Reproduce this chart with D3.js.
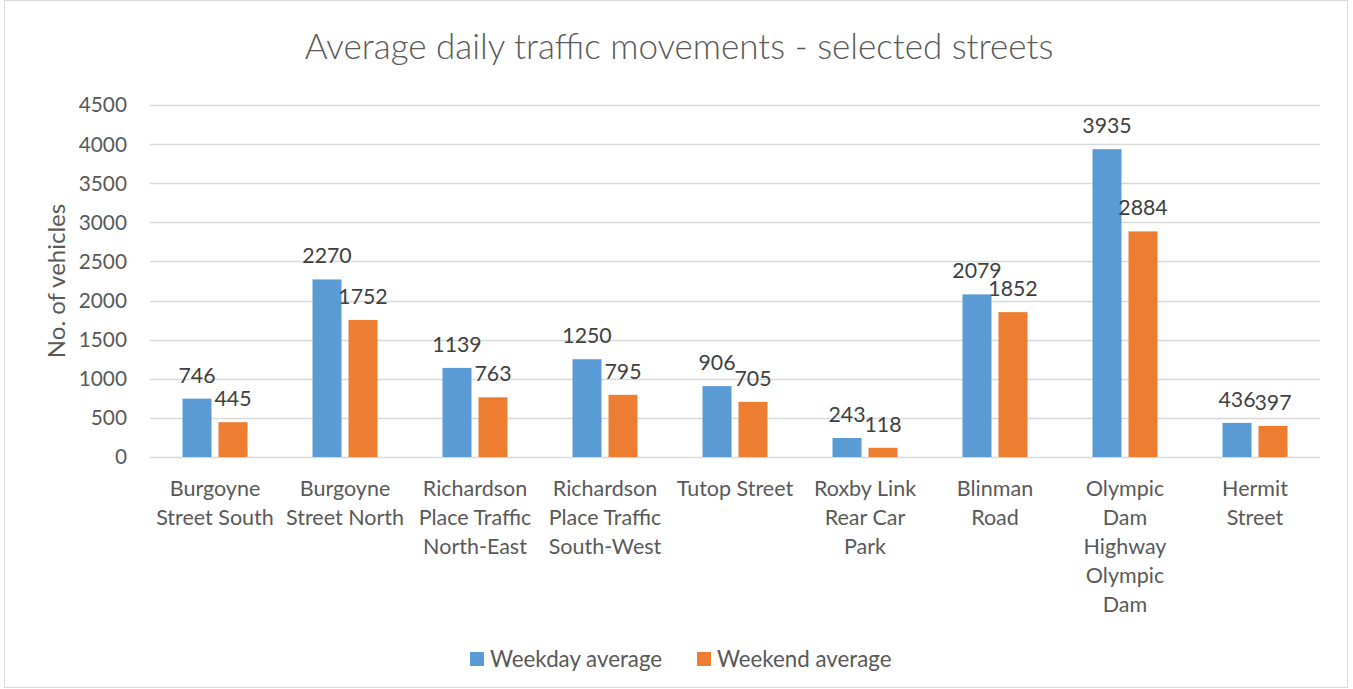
<!DOCTYPE html>
<html lang="en">
<head>
    <meta charset="UTF-8">
    <title>Average daily traffic movements</title>
    <script src="https://cdn.jsdelivr.net/npm/d3@7"></script>
    <style>
        body { margin: 0; background: #fff; }
        text { font-family: Lato, "Open Sans", sans-serif; }
    </style>
</head>
<body>

<script>

    const width = 1353;
    const height = 689;

    const categories = [
        ["Burgoyne", "Street South"],
        ["Burgoyne", "Street North"],
        ["Richardson", "Place Traffic", "North-East"],
        ["Richardson", "Place Traffic", "South-West"],
        ["Tutop Street"],
        ["Roxby Link", "Rear Car", "Park"],
        ["Blinman", "Road"],
        ["Olympic", "Dam", "Highway", "Olympic", "Dam"],
        ["Hermit", "Street"]
    ];
    const weekday = [746, 2270, 1139, 1250, 906, 243, 2079, 3935, 436];
    const weekend = [445, 1752, 763, 795, 705, 118, 1852, 2884, 397];
    const series = ["Weekday average", "Weekend average"];
    const yTicks = [0, 500, 1000, 1500, 2000, 2500, 3000, 3500, 4000, 4500];

    const colors = ["#5B9BD5", "#ED7D31"];
    const values = [weekday, weekend];

    const svg = d3.select("body").append("svg")
        .attr("width", width)
        .attr("height", height);

    // chart frame
    svg.append("rect")
        .attr("x", 4.5).attr("y", 0.5)
        .attr("width", 1343).attr("height", 687)
        .attr("fill", "#fff")
        .attr("stroke", "#d9d9d9");

    const x0 = d3.scaleBand()
        .domain(d3.range(categories.length))
        .range([150, 1320]);

    const x1 = d3.scaleBand()
        .domain(d3.range(series.length))
        .range([0, 65])
        .paddingInner(0.194);

    const y = d3.scaleLinear()
        .domain([0, 4500])
        .range([457, 105]);

    // gridlines + tick labels
    const grid = svg.append("g");
    grid.selectAll("line")
        .data(yTicks)
        .join("line")
        .attr("x1", 150).attr("x2", 1320)
        .attr("y1", d => Math.round(y(d)) + 0.5)
        .attr("y2", d => Math.round(y(d)) + 0.5)
        .attr("stroke", "#d9d9d9")
        .attr("stroke-width", 1.3);

    grid.selectAll("text")
        .data(yTicks)
        .join("text")
        .attr("x", 127)
        .attr("y", d => y(d))
        .attr("dy", "0.36em")
        .attr("text-anchor", "end")
        .attr("font-size", 20.8)
        .attr("fill", "#595959")
        .text(d => d);

    // bars
    const groups = svg.append("g")
        .selectAll("g")
        .data(categories)
        .join("g")
        .attr("transform", (d, i) => `translate(${x0(i) + (x0.bandwidth() - 65) / 2},0)`);

    groups.selectAll("rect")
        .data((d, i) => values.map((v, s) => ({s, v: v[i]})))
        .join("rect")
        .attr("x", d => x1(d.s))
        .attr("width", x1.bandwidth())
        .attr("y", d => y(d.v))
        .attr("height", d => y(0) - y(d.v))
        .attr("fill", d => colors[d.s]);

    groups.selectAll("text.value")
        .data((d, i) => values.map((v, s) => ({s, v: v[i]})))
        .join("text")
        .attr("class", "value")
        .attr("x", d => x1(d.s) + x1.bandwidth() / 2)
        .attr("y", d => y(d.v) - 16)
        .attr("text-anchor", "middle")
        .attr("font-size", 21.3)
        .attr("fill", "#404040")
        .text(d => d.v);

    // category labels
    svg.append("g")
        .selectAll("text")
        .data(categories)
        .join("text")
        .attr("text-anchor", "middle")
        .attr("font-size", 21.5)
        .attr("fill", "#595959")
        .each(function (d, i) {
            d3.select(this).selectAll("tspan")
                .data(d)
                .join("tspan")
                .attr("x", x0(i) + x0.bandwidth() / 2)
                .attr("y", (t, k) => 496 + k * 29)
                .text(t => t);
        });

    // title
    svg.append("text")
        .attr("x", 679)
        .attr("y", 59)
        .attr("text-anchor", "middle")
        .attr("font-size", 35)
        .attr("font-weight", 300)
        .attr("fill", "#595959")
        .text("Average daily traffic movements - selected streets");

    // y axis title
    svg.append("text")
        .attr("transform", "translate(65,281) rotate(-90)")
        .attr("text-anchor", "middle")
        .attr("font-size", 24)
        .attr("fill", "#595959")
        .text("No. of vehicles");

    // legend
    const legend = svg.append("g")
        .selectAll("g")
        .data(series)
        .join("g")
        .attr("transform", (d, i) => `translate(${[470, 697][i]},652)`);

    legend.append("rect")
        .attr("width", 14).attr("height", 14)
        .attr("fill", (d, i) => colors[i]);

    legend.append("text")
        .attr("x", 20)
        .attr("y", 7)
        .attr("dy", "0.36em")
        .attr("font-size", 22.3)
        .attr("fill", "#595959")
        .text(d => d);

</script>

</body>
</html>
